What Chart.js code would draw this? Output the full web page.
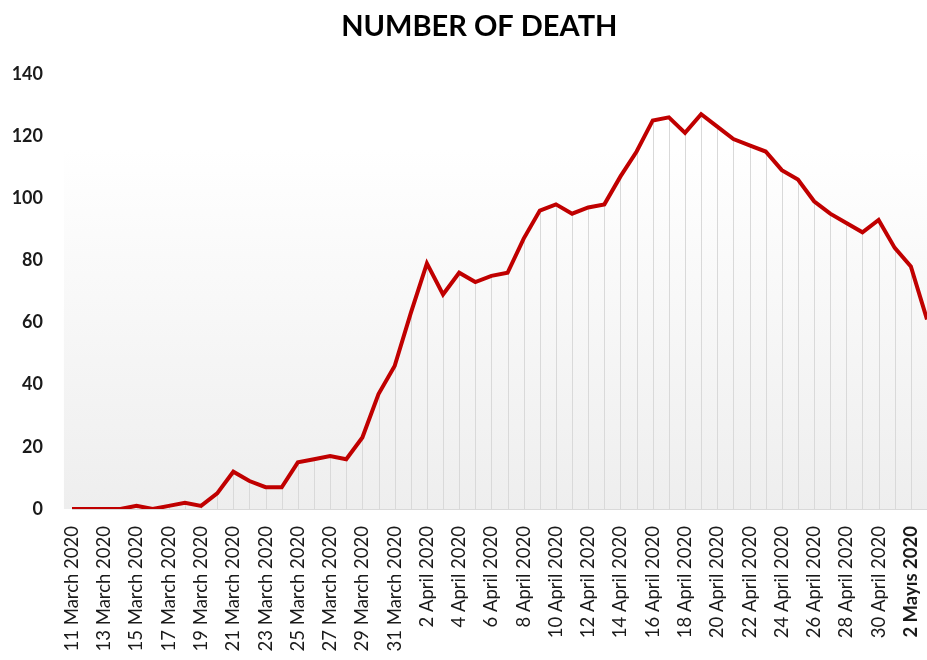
<!DOCTYPE html>
<html>
<head>
<meta charset="utf-8">
<script src="https://cdn.jsdelivr.net/npm/chart.js@4.4.1/dist/chart.umd.min.js"></script>
<style>
  body { margin: 0; background: #fff; }
  #wrap { width: 927px; height: 660px; }
</style>
</head>
<body>
<div id="wrap"><canvas id="deathChart"></canvas></div>
<script>
// Daily deaths, 11 March - 3 May 2020
const dates = [
  "11 March 2020", "12 March 2020", "13 March 2020", "14 March 2020", "15 March 2020",
  "16 March 2020", "17 March 2020", "18 March 2020", "19 March 2020", "20 March 2020",
  "21 March 2020", "22 March 2020", "23 March 2020", "24 March 2020", "25 March 2020",
  "26 March 2020", "27 March 2020", "28 March 2020", "29 March 2020", "30 March 2020",
  "31 March 2020",
  "1 April 2020", "2 April 2020", "3 April 2020", "4 April 2020", "5 April 2020",
  "6 April 2020", "7 April 2020", "8 April 2020", "9 April 2020", "10 April 2020",
  "11 April 2020", "12 April 2020", "13 April 2020", "14 April 2020", "15 April 2020",
  "16 April 2020", "17 April 2020", "18 April 2020", "19 April 2020", "20 April 2020",
  "21 April 2020", "22 April 2020", "23 April 2020", "24 April 2020", "25 April 2020",
  "26 April 2020", "27 April 2020", "28 April 2020", "29 April 2020", "30 April 2020",
  "1 Mayıs 2020", "2 Mayıs 2020", "3 Mayıs 2020",
];

const deaths = [
  0, 0, 0, 0, 1, 0, 1, 2, 1, 5,
  12, 9, 7, 7, 15, 16, 17, 16, 23, 37,
  46,
  63, 79, 69, 76, 73, 75, 76, 87, 96, 98,
  95, 97, 98, 107, 115, 125, 126, 121, 127, 123,
  119, 117, 115, 109, 106, 99, 95, 92, 89, 93,
  84, 78, 61,
];

const yTicks = [0, 20, 40, 60, 80, 100, 120, 140];

// plot background + drop lines under the series
const plotDecor = {
  id: "plotDecor",
  beforeDraw(chart) {
    const { ctx, chartArea, scales } = chart;
    const half = (scales.x.getPixelForValue(1) - scales.x.getPixelForValue(0)) / 2;
    const top = scales.y.getPixelForValue(116);
    const g = ctx.createLinearGradient(0, top, 0, chartArea.bottom);
    g.addColorStop(0, "#ffffff");
    g.addColorStop(1, "#eeeeee");
    ctx.save();
    ctx.fillStyle = g;
    ctx.fillRect(chartArea.left - half, top, chartArea.right - chartArea.left + half * 2, chartArea.bottom - top);
    ctx.restore();
  },
  beforeDatasetsDraw(chart) {
    const { ctx, chartArea } = chart;
    const meta = chart.getDatasetMeta(0);
    ctx.save();
    ctx.strokeStyle = "#d9d9d9";
    ctx.lineWidth = 1;
    meta.data.forEach((pt) => {
      const x = Math.round(pt.x) + 0.5;
      ctx.beginPath();
      ctx.moveTo(x, pt.y);
      ctx.lineTo(x, chartArea.bottom);
      ctx.stroke();
    });
    ctx.restore();
  },
};

const ctx = document.getElementById("deathChart");
new Chart(ctx, {
  type: "line",
  data: {
    labels: dates,
    datasets: [
      {
        label: "Number of death",
        data: deaths,
        borderColor: "#c00000",
        borderWidth: 4,
        pointRadius: 0,
        tension: 0,
        fill: false,
      },
    ],
  },
  options: {
    responsive: true,
    maintainAspectRatio: false,
    animation: false,
    layout: { padding: { left: 10, right: 0, top: 0, bottom: 5 } },
    plugins: {
      legend: { display: false },
      tooltip: { enabled: false },
      title: {
        display: true,
        text: "\u2002 NUMBER OF DEATH",
        color: "#000",
        font: { family: "Lato", size: 29, weight: "bold" },
        padding: { top: 9, bottom: 30 },
      },
    },
    scales: {
      x: {
        offset: false,
        grid: { display: false, drawTicks: false },
        border: { display: true, color: "#d9d9d9", width: 1 },
        ticks: {
          autoSkip: false,
          maxRotation: 90,
          minRotation: 90,
          padding: 17,
          color: "#1a1a1a",
          font: (c) => ({
            family: "Lato",
            size: 18.5,
            weight: c.index === 52 ? "bold" : "normal",
          }),
          callback: (v, i) => (i % 2 === 0 ? dates[i] : ""),
        },
        afterFit: (scale) => {
          scale.paddingLeft = 0;
          scale.paddingRight = 0;
          scale.height = 146;
        },
      },
      y: {
        min: 0,
        max: 140,
        grid: { display: false, drawTicks: false },
        border: { display: false },
        afterBuildTicks: (scale) => {
          scale.ticks = yTicks.map((v) => ({ value: v }));
        },
        afterFit: (scale) => {
          scale.width = 62;
        },
        ticks: {
          padding: 29,
          color: "#1a1a1a",
          font: { family: "Lato", size: 18, weight: "bold" },
        },
      },
    },
  },
  plugins: [plotDecor],
});
</script>
</body>
</html>
